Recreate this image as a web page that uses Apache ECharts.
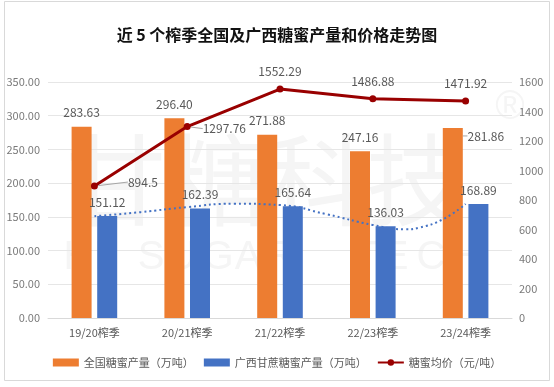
<!DOCTYPE html>
<html><head><meta charset="utf-8">
<script src="https://cdn.jsdelivr.net/npm/echarts@6/dist/echarts.min.js"></script>
<style>html,body{margin:0;padding:0;background:#fff}#c{width:554px;height:387px}</style>
</head><body><div id="c"></div>
<script>
const categories = ['19/20榨季','20/21榨季','21/22榨季','22/23榨季','23/24榨季'];
const nationalOutput = [283.63, 296.40, 271.88, 247.16, 281.86];
const guangxiOutput = [151.12, 162.39, 165.64, 136.03, 168.89];
const avgPrice = [894.5, 1297.76, 1552.29, 1486.88, 1471.92];
// dotted trendline of Guangxi output: [category position, value]
const trendPoints = [[0,151],[0.5,157],[1,164.5],[1.5,169.5],[2,167.5],[2.5,154],[3,138],[3.35,131.5],[3.5,134],[3.75,146],[4,169]];
const leftTicks = [0,50,100,150,200,250,300,350];
const rightTicks = [0,200,400,600,800,1000,1200,1400,1600];

const F = '"Noto Sans CJK SC", "Liberation Sans", sans-serif';
const labelColor = '#595959';
const chart = echarts.init(document.getElementById('c'));

const wmLetters = [['H',78],['I',99],['S',151],['U',182],['G',218],['A',248],['R',280],['T',365],['E',395],['C',431],['H',467]];
const wmColor = '#f5f5f5';
const graphics = [
  {type:'rect', shape:{x:4.5,y:1.5,width:545,height:379}, style:{fill:'none',stroke:'#d9d9d9',lineWidth:1}, z:-20, silent:true},
  {type:'text', x:266, y:180, z:-10, silent:true, style:{text:'甘糖科技', font:'100px ' + F, fill:wmColor, align:'center', verticalAlign:'middle'}},
  {type:'text', x:510, y:108, z:-10, silent:true, style:{text:'®', font:'40px "Liberation Sans", sans-serif', fill:wmColor, align:'center', verticalAlign:'middle'}}
];
wmLetters.forEach(([ch,x]) => graphics.push({type:'text', x:x, y:258, z:-10, silent:true,
  style:{text:ch, font:'40px "Liberation Sans", sans-serif', fill:wmColor, align:'center', verticalAlign:'middle'}}));

const leader = {show:true, lineStyle:{color:'#a6a6a6', width:1}};

chart.setOption({
  animation:false,
  backgroundColor:'#fff',
  title:{text:'近 5 个榨季全国及广西糖蜜产量和价格走势图', left:'center', top:22,
    textStyle:{fontFamily:F, fontSize:16, fontWeight:'bold', color:'#111'}},
  graphic: graphics,
  legend:{bottom:14, left:'center', itemGap:10, itemWidth:26, itemHeight:8,
    textStyle:{fontFamily:F, fontSize:11, color:labelColor},
    data:[{name:'全国糖蜜产量（万吨）', icon:'rect'},{name:'广西甘蔗糖蜜产量（万吨）', icon:'rect'},{name:'糖蜜均价（元/吨）'}]},
  grid:{left:48, right:42, top:82, bottom:69},
  xAxis:[
    {type:'category', data:categories, axisTick:{show:false},
     axisLine:{lineStyle:{color:'#d9d9d9'}},
     axisLabel:{fontFamily:F, fontSize:11, color:labelColor, margin:9}},
    {type:'value', min:-0.5, max:4.5, show:false}
  ],
  yAxis:[
    {type:'value', min:0, max:350, interval:50,
     axisLabel:{fontFamily:F, fontSize:11, color:'#7a7a7a', formatter:v=>v.toFixed(2), margin:8},
     splitLine:{lineStyle:{color:'#e6e6e6'}}, axisLine:{show:false}, axisTick:{show:false}},
    {type:'value', min:0, max:1600, interval:200,
     axisLabel:{fontFamily:F, fontSize:11, color:'#7a7a7a', margin:7, formatter:v=>String(v)},
     splitLine:{show:false}, axisLine:{show:false}, axisTick:{show:false}}
  ],
  series:[
    {name:'全国糖蜜产量（万吨）', type:'bar', barWidth:20, barGap:'28%',
     data:nationalOutput.map((v,i)=> i===4 ? {value:v, labelLine:leader} : {value:v}),
     itemStyle:{color:'#ed7d31'},
     label:{show:true, position:'top', distance:8, fontFamily:F, fontSize:12, color:labelColor, formatter:p=>p.value.toFixed(2)},
     labelLine:{show:false},
     labelLayout:function(p){ if(p.dataIndex===4) return {dx:33, dy:22}; return {}; }},
    {name:'广西甘蔗糖蜜产量（万吨）', type:'bar', data:guangxiOutput, barWidth:20,
     itemStyle:{color:'#4472c4'},
     label:{show:true, position:'top', distance:8, fontFamily:F, fontSize:12, color:labelColor, formatter:p=>p.value.toFixed(2)}},
    {name:'糖蜜均价（元/吨）', type:'line', yAxisIndex:1, data:avgPrice.map((v,i)=>{
        const o = {value:v};
        if(i===0) { o.label = {position:'right', distance:4}; o.labelLine = leader; }
        if(i===1) { o.label = {position:'right', distance:4}; o.labelLine = leader; }
        return o; }),
     labelLayout:function(p){ if(p.dataIndex===0) return {dx:26, dy:-4}; if(p.dataIndex===1) return {dx:8, dy:2}; return {}; },
     symbol:'circle', symbolSize:7, lineStyle:{color:'#990000', width:3}, itemStyle:{color:'#990000'},
     label:{show:true, position:'top', distance:8, fontFamily:F, fontSize:12, color:labelColor},
     labelLine:{show:false}, z:5},
    {name:'trend', type:'line', xAxisIndex:1, yAxisIndex:0, data:trendPoints, smooth:0.5, symbol:'none',
     lineStyle:{color:'#4472c4', width:2, type:[2,3]}, z:4, silent:true}
  ]
});
</script></body></html>
